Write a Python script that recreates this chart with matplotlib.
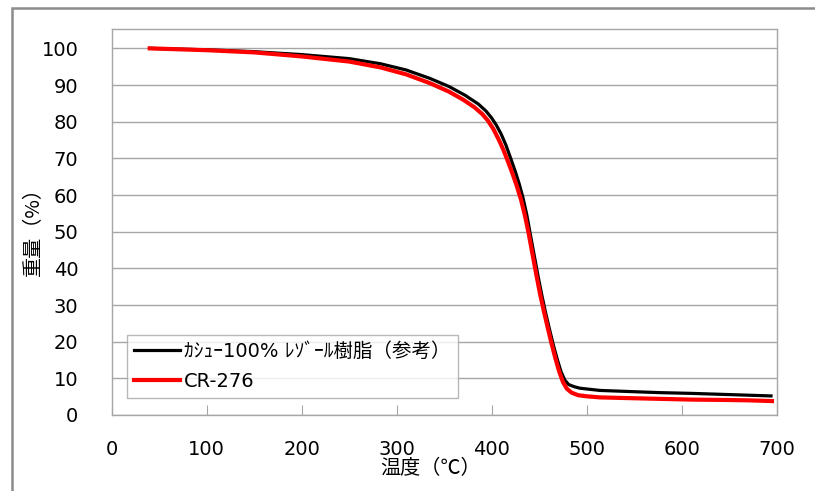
import matplotlib.pyplot as plt
from matplotlib.patches import Rectangle

plt.rcParams['font.family'] = ['DejaVu Sans', 'Noto Sans CJK JP']

# === data ===
temp_black = [40, 100, 150, 200, 250, 283, 310, 335, 355, 372, 386, 394, 400, 405, 410, 415, 420, 425, 429,
              433, 437, 441, 445, 449, 453, 457, 461, 465, 469, 473, 477, 481, 487, 493, 500, 514, 545, 577,
              610, 646, 670, 694]
wt_black = [100, 99.6, 99.1, 98.3, 97.2, 95.8, 94.1, 91.8, 89.6, 87.2, 84.8, 82.9, 81.0, 79.0, 76.6, 73.6,
            70.0, 66.3, 63.0, 59.2, 54.5, 48.8, 43.2, 37.6, 32.4, 27.6, 23.2, 19.0, 15.2, 11.8, 9.5, 8.3, 7.7,
            7.3, 7.1, 6.7, 6.4, 6.1, 5.9, 5.6, 5.4, 5.2]

temp_red = [40, 100, 150, 200, 250, 283, 310, 335, 355, 370, 382, 390, 396, 402, 408, 412, 416, 421, 426,
            431, 435, 439, 443, 447, 451, 455, 459, 463, 467, 471, 475, 479, 484, 491, 500, 514, 545, 577,
            610, 646, 670, 695]
wt_red = [100, 99.5, 98.9, 97.8, 96.4, 94.8, 92.9, 90.5, 88.2, 86.0, 83.9, 82.1, 80.3, 77.9, 74.8, 72.5,
          69.9, 66.5, 62.8, 58.6, 54.4, 49.4, 43.8, 38.2, 32.9, 28.2, 23.8, 19.5, 15.5, 11.9, 9.0, 7.2, 6.1,
          5.4, 5.1, 4.8, 4.6, 4.4, 4.2, 4.1, 4.0, 3.8]

label_black = "ｶｼｭｰ100% ﾚｿﾞｰﾙ樹脂（参考）"
label_red = "CR-276"

fig = plt.figure(figsize=(8.15, 4.91), dpi=100)
ax = fig.add_axes([111.7 / 815, 1 - 415 / 491, (776.7 - 111.7) / 815, (415 - 29.3) / 491])

ax.plot(temp_black, wt_black, color="black", lw=2.3, label=label_black, zorder=3)
ax.plot(temp_red, wt_red, color="#ff0000", lw=3.0, label=label_red, zorder=4)

ax.set_xlim(0, 700)
ax.set_ylim(0, 105.2)
ax.set_xticks(range(0, 701, 100))
ax.set_yticks(range(0, 101, 10))
ax.grid(axis="y", color="#a6a6a6", lw=1.0)
ax.set_axisbelow(True)

for s in ax.spines.values():
    s.set_color("#a6a6a6")
    s.set_linewidth(1.0)

ax.tick_params(axis="x", direction="in", length=7, color="#a6a6a6", labelsize=14, pad=18)
ax.tick_params(axis="y", length=0, labelsize=14, pad=24)

ax.set_xlabel("温度（℃）", fontsize=14.5, family=['Noto Sans CJK JP'])
ax.xaxis.set_label_coords(0.479, -0.112)
ax.set_ylabel("重量（%）", fontsize=14.5, family=['Noto Sans CJK JP'])
ax.yaxis.set_label_coords(-0.102, 0.49)

leg = ax.legend(loc="lower left", bbox_to_anchor=(0.023, 0.044), fontsize=14, frameon=True,
                fancybox=False, edgecolor="#a6a6a6", handlelength=2.4, handletextpad=0.2,
                labelspacing=0.6, borderpad=0.35, borderaxespad=0)
leg.get_frame().set_linewidth(1.0)

# outer chart frame
fig.patches.append(Rectangle((12 / 815, -0.05), 1.0, 1 - 8 / 491 + 0.05, transform=fig.transFigure,
                             fill=False, edgecolor="#8c8c8c", lw=1.8))

fig.savefig("out.png", dpi=100)
